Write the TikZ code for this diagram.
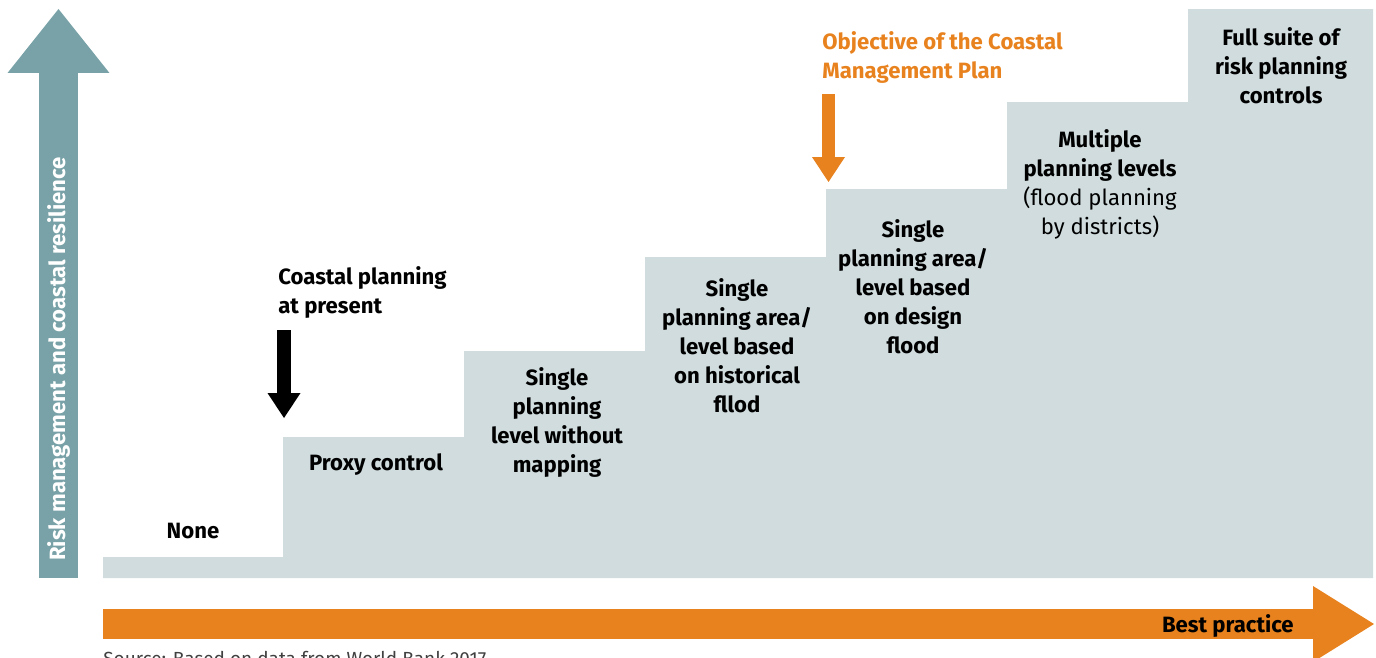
\documentclass[tikz,border=0pt]{standalone}
\usepackage{fontspec}
\setmainfont{Fira Sans}
\usepackage{xcolor}
\usepackage{tikz}
\usetikzlibrary{arrows.meta}
\definecolor{stepgrey}{HTML}{D0DCDE}
\definecolor{riskteal}{HTML}{78A2A7}
\definecolor{practice}{HTML}{E8821E}

\begin{document}
\begin{tikzpicture}[
  x=0.02cm, y=-0.02cm,
  font=\fontsize{12.6}{16.5}\selectfont,
  stage/.style={font=\fontsize{12.6}{16.5}\selectfont\bfseries, align=center, inner sep=0pt},
  marker/.style={font=\fontsize{12.6}{16.5}\selectfont\bfseries, align=left, anchor=west, inner sep=0pt},
  pointer/.style={line width=0.27cm, -{Triangle[width=0.66cm, length=0.5cm, line width=0pt]}},
  axis/.style={line width=#1}
]
\useasboundingbox (0,0) rectangle (1376,657);

% staircase
\fill[stepgrey] (103,578) -- (103,557) -- (283,557) -- (283,437) -- (464,437) -- (464,351)
  -- (645,351) -- (645,257) -- (826,257) -- (826,189) -- (1007,189) -- (1007,102)
  -- (1188,102) -- (1188,9) -- (1373,9) -- (1373,578) -- cycle;

\node[stage] (none) at (193,531) {None};
\node[stage] (proxy) at (376,465) {Proxy control};
\node[stage] (nomap) at (557,422) {Single\\planning\\level without\\mapping};
\node[stage] (hist) at (737,346) {Single\\planning area/\\level based\\on historical\\fllod};
\node[stage] (design) at (913,287) {Single\\planning area/\\level based\\on design\\flood};
\node[stage] (multi) at (1100,184) {Multiple\\planning levels\\\mdseries(flood planning\\\mdseries by districts)};
\node[stage] (full) at (1281,66) {Full suite of\\risk planning\\controls};

% where we are and where we aim
\node[marker] (present) at (278,292) {Coastal planning\\at present};
\coordinate (present-top) at (284,330);
\coordinate (present-tip) at (284,418);
\draw[pointer, black] (present-top) -- (present-tip);

\node[marker, text=practice] (objective) at (822,57) {Objective of the Coastal\\Management Plan};
\coordinate (objective-top) at (828.5,94);
\coordinate (objective-tip) at (828.5,182);
\draw[pointer, practice] (objective-top) -- (objective-tip);

% axes
\coordinate (rise-foot) at (58.5,578);
\coordinate (rise-tip) at (58.5,9);
\draw[axis=0.78cm, riskteal, -{Triangle[width=2.04cm, length=1.28cm, line width=0pt]}] (rise-foot) -- (rise-tip);
\node[stage, text=white, rotate=90] (resilience) at (58.5,359) {Risk management and coastal resilience};

\coordinate (best-foot) at (103,624);
\coordinate (best-tip) at (1374,624);
\draw[axis=0.6cm, practice, -{Triangle[width=1.52cm, length=1.22cm, line width=0pt]}] (best-foot) -- (best-tip);
\node[stage, anchor=east] (best) at (1294,626) {Best practice};

\node[anchor=north west, inner sep=0pt, text=black!75, font=\fontsize{10.8}{13}\selectfont] (source) at (103,651) {Source: Based on data from World Bank 2017};
\end{tikzpicture}
\end{document}
